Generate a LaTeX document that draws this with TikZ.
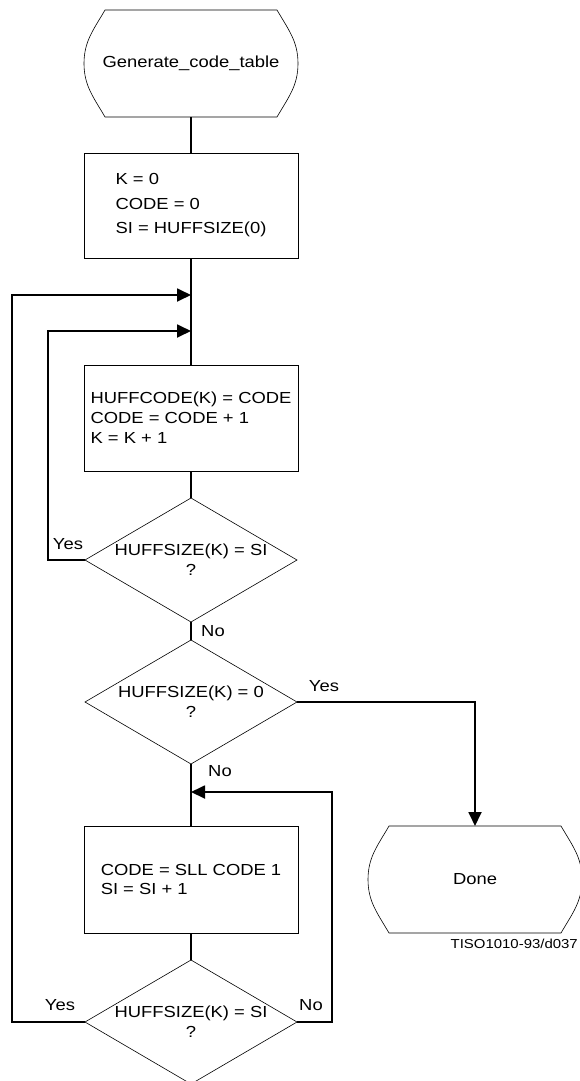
\documentclass[tikz,border=0pt]{standalone}
\usepackage{fontspec}
\setmainfont{Liberation Sans}[FakeStretch=1.15]
\usetikzlibrary{shapes.geometric,arrows.meta,positioning}

% outline of a terminal: flat top and bottom, bulging sides
\newcommand\drawterminal[1]{%
  \draw[line width=0.6pt] ([xshift=21pt]#1.north west) -- ([xshift=-21pt]#1.north east)
    to[out=-60,in=90] (#1.east) to[out=-90,in=60] ([xshift=-21pt]#1.south east)
    -- ([xshift=21pt]#1.south west)
    to[out=120,in=-90] (#1.west) to[out=90,in=-120] ([xshift=21pt]#1.north west) -- cycle;}

\begin{document}
\begin{tikzpicture}[
    x=1pt,y=1pt,
    font=\fontsize{16}{20}\selectfont,
    terminal/.style={rectangle,minimum width=214pt,minimum height=107pt,
                     inner sep=0pt,outer sep=0pt},
    box/.style={rectangle,draw,line width=0.9pt,minimum width=214pt,
                minimum height=106pt,align=left,inner sep=2pt,outer sep=0pt},
    decision/.style={diamond,draw,line width=0.6pt,minimum width=212pt,
                     minimum height=124pt,shape aspect=1.71,inner sep=0pt,
                     outer sep=0pt,align=center},
    lbl/.style={inner sep=0pt},
    note/.style={inner sep=0pt,font=\fontsize{13}{15}\selectfont},
    line/.style={line width=1.8pt},
    arrow/.style={line width=1.8pt,-{Triangle[length=14pt,width=13pt]}}
]
\useasboundingbox (0,0) rectangle (579,-1081);

\node[terminal] (start) at (191,-63.5) {Generate\_code\_table};
\drawterminal{start}
\node[box,minimum height=105pt,font=\fontsize{16}{24.5}\selectfont,below=36pt of start] (init)
    {K = 0\\CODE = 0\\SI = HUFFSIZE(0)};
\coordinate[below=37pt of init] (join1);
\coordinate[below=36pt of join1] (join2);
\node[box,below=34pt of join2] (body) {HUFFCODE(K) = CODE\\CODE = CODE + 1\\K = K + 1};
\node[decision,below=27pt of body] (test1) {HUFFSIZE(K) = SI\\?};
\node[decision,below=18pt of test1] (test2) {HUFFSIZE(K) = 0\\?};
\coordinate[below=28pt of test2] (join3);
\node[box,minimum height=107pt,font=\fontsize{16}{18.5}\selectfont,below=34pt of join3] (shift)
    {CODE = SLL CODE 1\\SI = SI + 1};
\node[decision,below=27pt of shift] (test3) {HUFFSIZE(K) = SI\\?};

\node[terminal,right=70pt of shift] (done) {Done};
\drawterminal{done}
\node[note,anchor=north east] (ref) at ([shift={(-4,-6)}]done.south east) {TISO1010-93/d037};

\node[lbl] (yes1) at ([shift={(-17,16)}]test1.west) {Yes};
\node[lbl] (no1) at ([shift={(22,-9)}]test1.south) {No};
\node[lbl] (yes2) at ([shift={(27,16)}]test2.east) {Yes};
\node[lbl] (no2) at ([shift={(29,-7)}]test2.south) {No};
\node[lbl] (yes3) at ([shift={(-25,17)}]test3.west) {Yes};
\node[lbl] (no3) at ([shift={(14,17)}]test3.east) {No};

\draw[line] (start) -- (init);
\draw[line] (init) -- (body);
\draw[line] (body) -- (test1);
\draw[line] (test1) -- (test2);
\draw[line] (test2) -- (shift);
\draw[line] (shift) -- (test3);
\draw[arrow] (test1.west) -- ++(-37,0) |- (join2);
\draw[arrow] (test3.west) -- ++(-73,0) |- (join1);
\draw[arrow] (test3.east) -- ++(35,0) |- (join3);
\draw[arrow] (test2.east) -| (done.north);
\end{tikzpicture}
\end{document}
